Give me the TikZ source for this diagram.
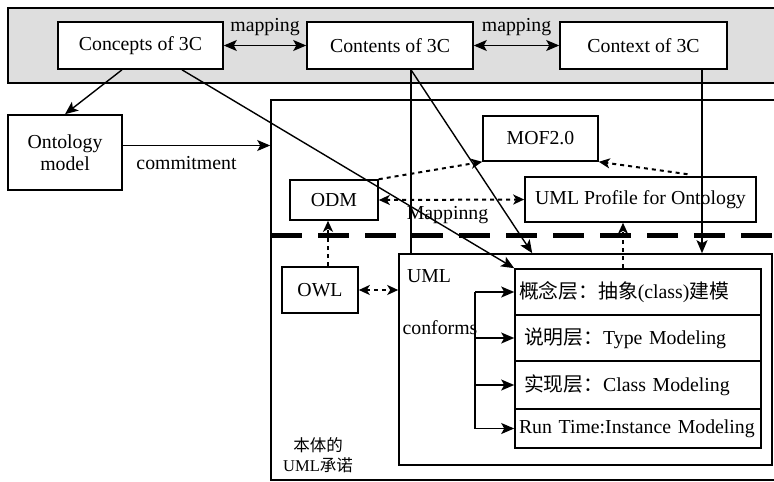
\documentclass[tikz,border=0pt]{standalone}
\usepackage{fontspec}
\setmainfont{Liberation Serif}
\newfontfamily\cjk{Noto Sans CJK SC}
\usetikzlibrary{arrows.meta,calc,fit}

\tikzset{
  every node/.style={font=\fontsize{19.8}{22}\selectfont},
  box/.style={draw, line width=1.6pt, fill=white, inner sep=2pt, align=center},
  layer/.style={box, text width=238pt, align=left, inner xsep=4pt, inner ysep=1pt},
  lbl/.style={inner sep=1pt},
  tip/.style={-{Stealth[length=13pt,width=11pt,inset=3pt]}},
  arr/.style={line width=1.4pt, tip},
  biarr/.style={line width=1.4pt, {Stealth[length=13pt,width=11pt,inset=3pt]}-{Stealth[length=13pt,width=11pt,inset=3pt]}},
  dotarr/.style={line width=2pt, dash pattern=on 4pt off 4pt, -{Stealth[length=11pt,width=10pt,inset=3pt]}},
  dotbiarr/.style={dotarr, {Stealth[length=11pt,width=10pt,inset=3pt]}-{Stealth[length=11pt,width=10pt,inset=3pt]}},
}

\begin{document}
\begin{tikzpicture}[x=1pt, y=-1pt]
\useasboundingbox (0,0) rectangle (774,482);
\clip (0,0) rectangle (774,482);

% 3C band
\draw[line width=1.6pt, fill=black!13] (8,8) rectangle (790,83);
\node[box, minimum width=165pt, minimum height=47pt] (concepts) at (140.5,45.5) {Concepts of 3C};
\node[box, minimum width=166pt, minimum height=47pt] (contents) at (390,45.5) {Contents of 3C};
\node[box, minimum width=167pt, minimum height=47pt] (context) at (643.5,45.5) {Context of 3C};

\node[box, minimum width=114pt, minimum height=75pt] (ontology) at (65,152.5) {Ontology\\model};

% commitment frame
\node[draw, line width=1.6pt, inner sep=0pt, fit={(271,100) (790,480)}] (frame) {};
\coordinate (sepL) at (271,235);
\coordinate (sepR) at (790,235);
\draw[line width=5pt, dash pattern=on 31pt off 16pt] (sepL) -- (sepR);

\node[box, minimum width=115pt, minimum height=45pt] (mof) at (540.5,138.5) {MOF2.0};
\node[box, minimum width=231pt, minimum height=45pt] (profile) at (640.5,199.5) {UML Profile for Ontology};
\node[box, minimum width=88pt, minimum height=40pt] (odm) at (334,200) {ODM};
\node[box, minimum width=76pt, minimum height=46pt] (owl) at (320,290) {OWL};

% UML and its layers
\node[draw, line width=1.6pt, inner sep=0pt, fit={(399,254) (772,465)}] (uml) {};
\node[lbl] (umltxt) at (429,276) {UML};
\node[lbl] (conforms) at (440,328) {conforms};
\node[layer, minimum height=46pt] (l1) at (638,292) {\cjk 概念层：抽象\normalfont(class)\cjk 建模};
\node[layer, minimum height=46pt] (l2) at (638,338) {\hspace{5pt}{\cjk 说明层：}Type Modeling};
\node[layer, minimum height=48pt] (l3) at (638,385) {\hspace{5pt}{\cjk 实现层：}Class Modeling};
\node[layer, minimum height=39pt] (l4) at (638,428.5) {Run Time:Instance Modeling};

\node[lbl, align=center, font=\fontsize{16.5}{20}\selectfont] (commit) at (318,455) {{\cjk 本体的}\\UML{\cjk 承诺}};

% connectors
\draw[biarr] (concepts) -- (contents) node[midway, above=8pt, lbl] {mapping};
\draw[biarr] (contents) -- (context) node[midway, above=8pt, lbl] {mapping};
\draw[arr] ([xshift=-18.5pt]concepts.south) -- (ontology.north);
\draw[arr] ([yshift=7pt]ontology.east) -- ([yshift=7pt]ontology.east -| frame.west)
  node[midway, below=9pt, lbl, xshift=-10pt] {commitment};
\draw[arr] ([xshift=41.5pt]concepts.south) -- (l1.north west);
\draw[line width=1.4pt] ([xshift=21pt]contents.south) -- ([xshift=21pt]contents.south |- uml.north);
\draw[arr] ([xshift=21pt]contents.south) -- ($(uml.north west)+(134,0)$);
\draw[arr] ([xshift=58.5pt]context.south) -- ([xshift=58.5pt]context.south |- uml.north);

\draw[dotarr] (odm.north east) -- (mof.south west);
\draw[dotarr] ($(profile.north)+(47,-2)$) -- (mof.south east);
\draw[dotbiarr] (odm.east) -- (profile.west) node[midway, below=5pt, lbl, xshift=-4pt] {Mappinng};
\draw[dotarr] ([xshift=8pt]owl.north) -- ([xshift=8pt]owl.north |- odm.south);
\draw[dotbiarr] (owl.east) -- (owl.east -| uml.west);
\draw[dotarr] ([xshift=-17.5pt]profile.south |- l1.north) -- ([xshift=-17.5pt]profile.south);

% conforms bracket
\coordinate (cf) at (475,0);
\draw[line width=1.4pt] (cf |- l1.west) -- (cf |- l4.west);
\foreach \l in {l1,l2,l3,l4}
  \draw[arr] (cf |- \l.west) -- (\l.west);
\end{tikzpicture}
\end{document}
